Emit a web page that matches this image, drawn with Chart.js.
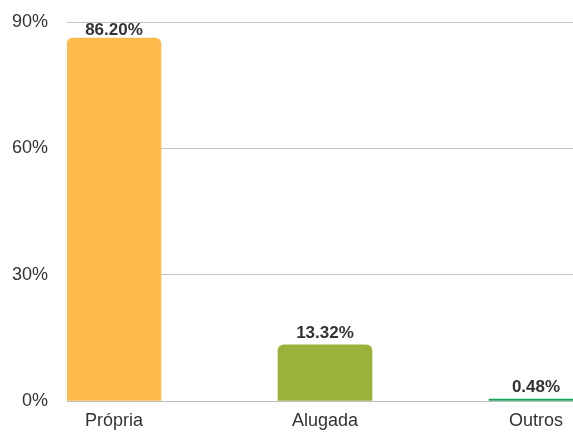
<!DOCTYPE html>
<html>
<head>
<meta charset="utf-8">
<script src="https://cdn.jsdelivr.net/npm/chart.js@4/dist/chart.umd.min.js"></script>
<style>
  html, body { margin: 0; padding: 0; background: #fff; }
  #wrap { width: 573px; height: 432px; }
</style>
</head>
<body>
<div id="wrap"><canvas id="chart"></canvas></div>
<script>
/*--data--*/
var categories = ["Própria", "Alugada", "Outros"];
var values = [86.20, 13.32, 0.48];
var barColors = ["#FEBB4B", "#9BB23A", "#17A35E"];
var yTicks = [0, 30, 60, 90];

/*--labels above the bars (kept inside the plot area)--*/
var valueLabels = {
  id: 'valueLabels',
  afterDatasetsDraw: function(chart) {
    var ctx = chart.ctx;
    var meta = chart.getDatasetMeta(0);
    var top = chart.chartArea.top;
    ctx.save();
    ctx.font = 'bold 17px "Liberation Sans", Arial, sans-serif';
    ctx.fillStyle = '#333333';
    ctx.textAlign = 'center';
    ctx.textBaseline = 'bottom';
    meta.data.forEach(function(bar, i) {
      var y = Math.max(bar.y - 3, top + 17);
      ctx.fillText(values[i].toFixed(2) + '%', bar.x, y);
    });
    ctx.restore();
  }
};

var points = values.map(function(v, i) { return { x: i, y: v }; });

new Chart(document.getElementById('chart'), {
  type: 'bar',
  data: {
    datasets: [{
      data: points,
      backgroundColor: barColors,
      borderWidth: 0,
      borderRadius: 6,
      barThickness: 94
    }]
  },
  options: {
    responsive: true,
    maintainAspectRatio: false,
    animation: false,
    layout: { padding: { top: 22, right: 0, bottom: 0, left: 0 } },
    plugins: {
      legend: { display: false },
      tooltip: { enabled: false }
    },
    scales: {
      x: {
        type: 'linear',
        offset: false,
        min: -0.2227,
        max: 2.1754,
        grid: { display: false, drawTicks: false },
        border: { display: true, color: '#bdbdbd', width: 1 },
        afterBuildTicks: function(scale) {
          scale.ticks = categories.map(function(c, i) { return { value: i }; });
        },
        afterFit: function(scale) {
          scale.height = 31;
          scale.paddingLeft = 0;
          scale.paddingRight = 0;
        },
        ticks: {
          padding: 9,
          color: '#333333',
          font: { size: 18, family: '"Liberation Sans", Arial, sans-serif' },
          callback: function(v) { return categories[v]; }
        }
      },
      y: {
        min: 0,
        max: 90,
        afterBuildTicks: function(scale) {
          scale.ticks = yTicks.map(function(t) { return { value: t }; });
        },
        afterFit: function(scale) {
          scale.width = 67;
          scale.paddingTop = 0;
          scale.paddingBottom = 0;
        },
        grid: { color: '#c4c4c4', lineWidth: 1, drawTicks: false },
        border: { display: false },
        ticks: {
          padding: 19,
          color: '#333333',
          font: { size: 18, family: '"Liberation Sans", Arial, sans-serif' },
          callback: function(v) { return v + '%'; }
        }
      }
    }
  },
  plugins: [valueLabels]
});
</script>
</body>
</html>
